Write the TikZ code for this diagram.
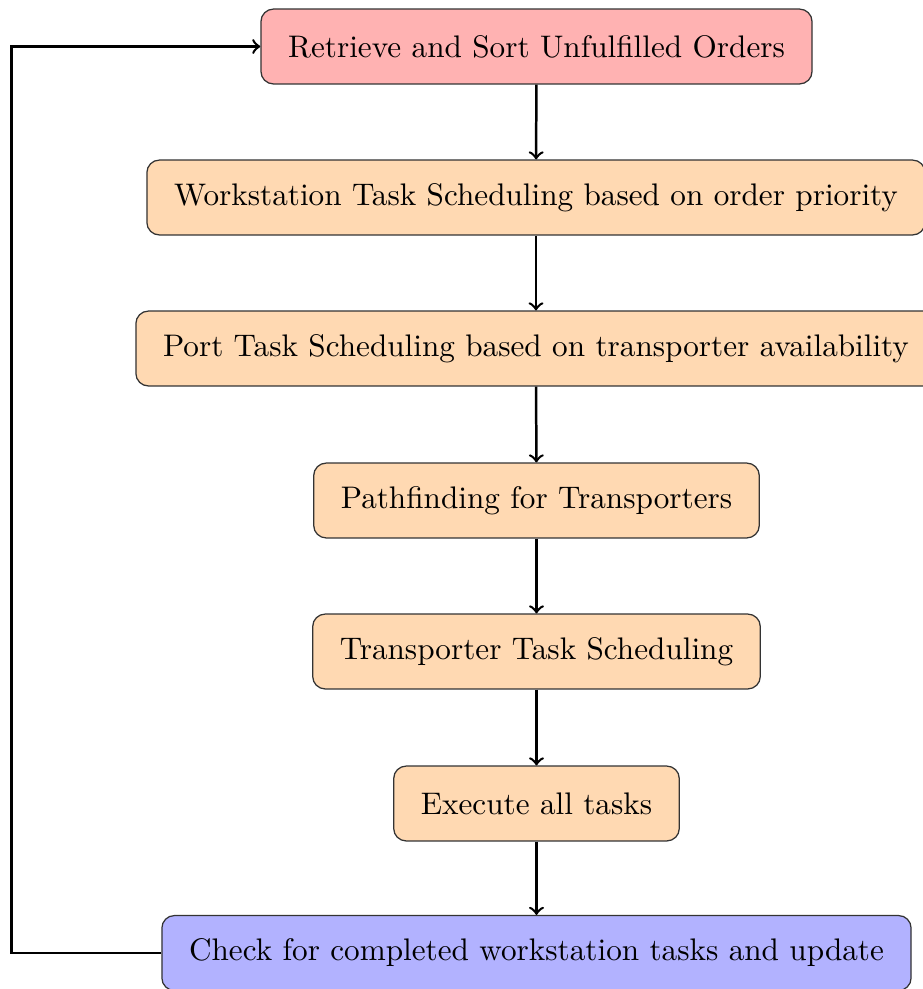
\documentclass[tikz,border=0pt]{standalone}
\tikzset{
  stage/.style={draw=black!80, line width=0.4pt, rounded corners=4pt,
    minimum height=24pt, inner xsep=8.7pt, inner ysep=0pt,
    font=\normalsize, text=black},
  startstage/.style={stage, fill=red!30},
  midstage/.style={stage, fill=orange!30},
  endstage/.style={stage, fill=blue!30},
  flow/.style={->, line width=0.8pt, black}
}
\begin{document}
\begin{tikzpicture}[x=0.3205pt, y=-0.3205pt]
  \useasboundingbox (0,0) rectangle (923,989);
  \node[startstage] (retrieve) at (536.5,46.5) {Retrieve and Sort Unfulfilled Orders};
  \node[midstage] (workstation) at (536,197.5) {Workstation Task Scheduling based on order priority};
  \node[midstage] (port) at (536,348.5) {Port Task Scheduling based on transporter availability};
  \node[midstage] (pathfinding) at (536.5,500.5) {Pathfinding for Transporters};
  \node[midstage] (transporter) at (536.5,651.5) {Transporter Task Scheduling};
  \node[midstage] (execute) at (536.5,803.5) {Execute all tasks};
  \node[endstage] (check) at (536.5,953) {Check for completed workstation tasks and update};
  \coordinate (loopbottom) at (11.5,953);
  \coordinate (looptop) at (11.5,46.5);
  \draw[flow] (retrieve) -- (workstation);
  \draw[flow] (workstation) -- (port);
  \draw[flow] (port) -- (pathfinding);
  \draw[flow] (pathfinding) -- (transporter);
  \draw[flow] (transporter) -- (execute);
  \draw[flow] (execute) -- (check);
  \draw[flow] (check.west) -- (loopbottom) -- (looptop) -- (retrieve.west);
\end{tikzpicture}
\end{document}
